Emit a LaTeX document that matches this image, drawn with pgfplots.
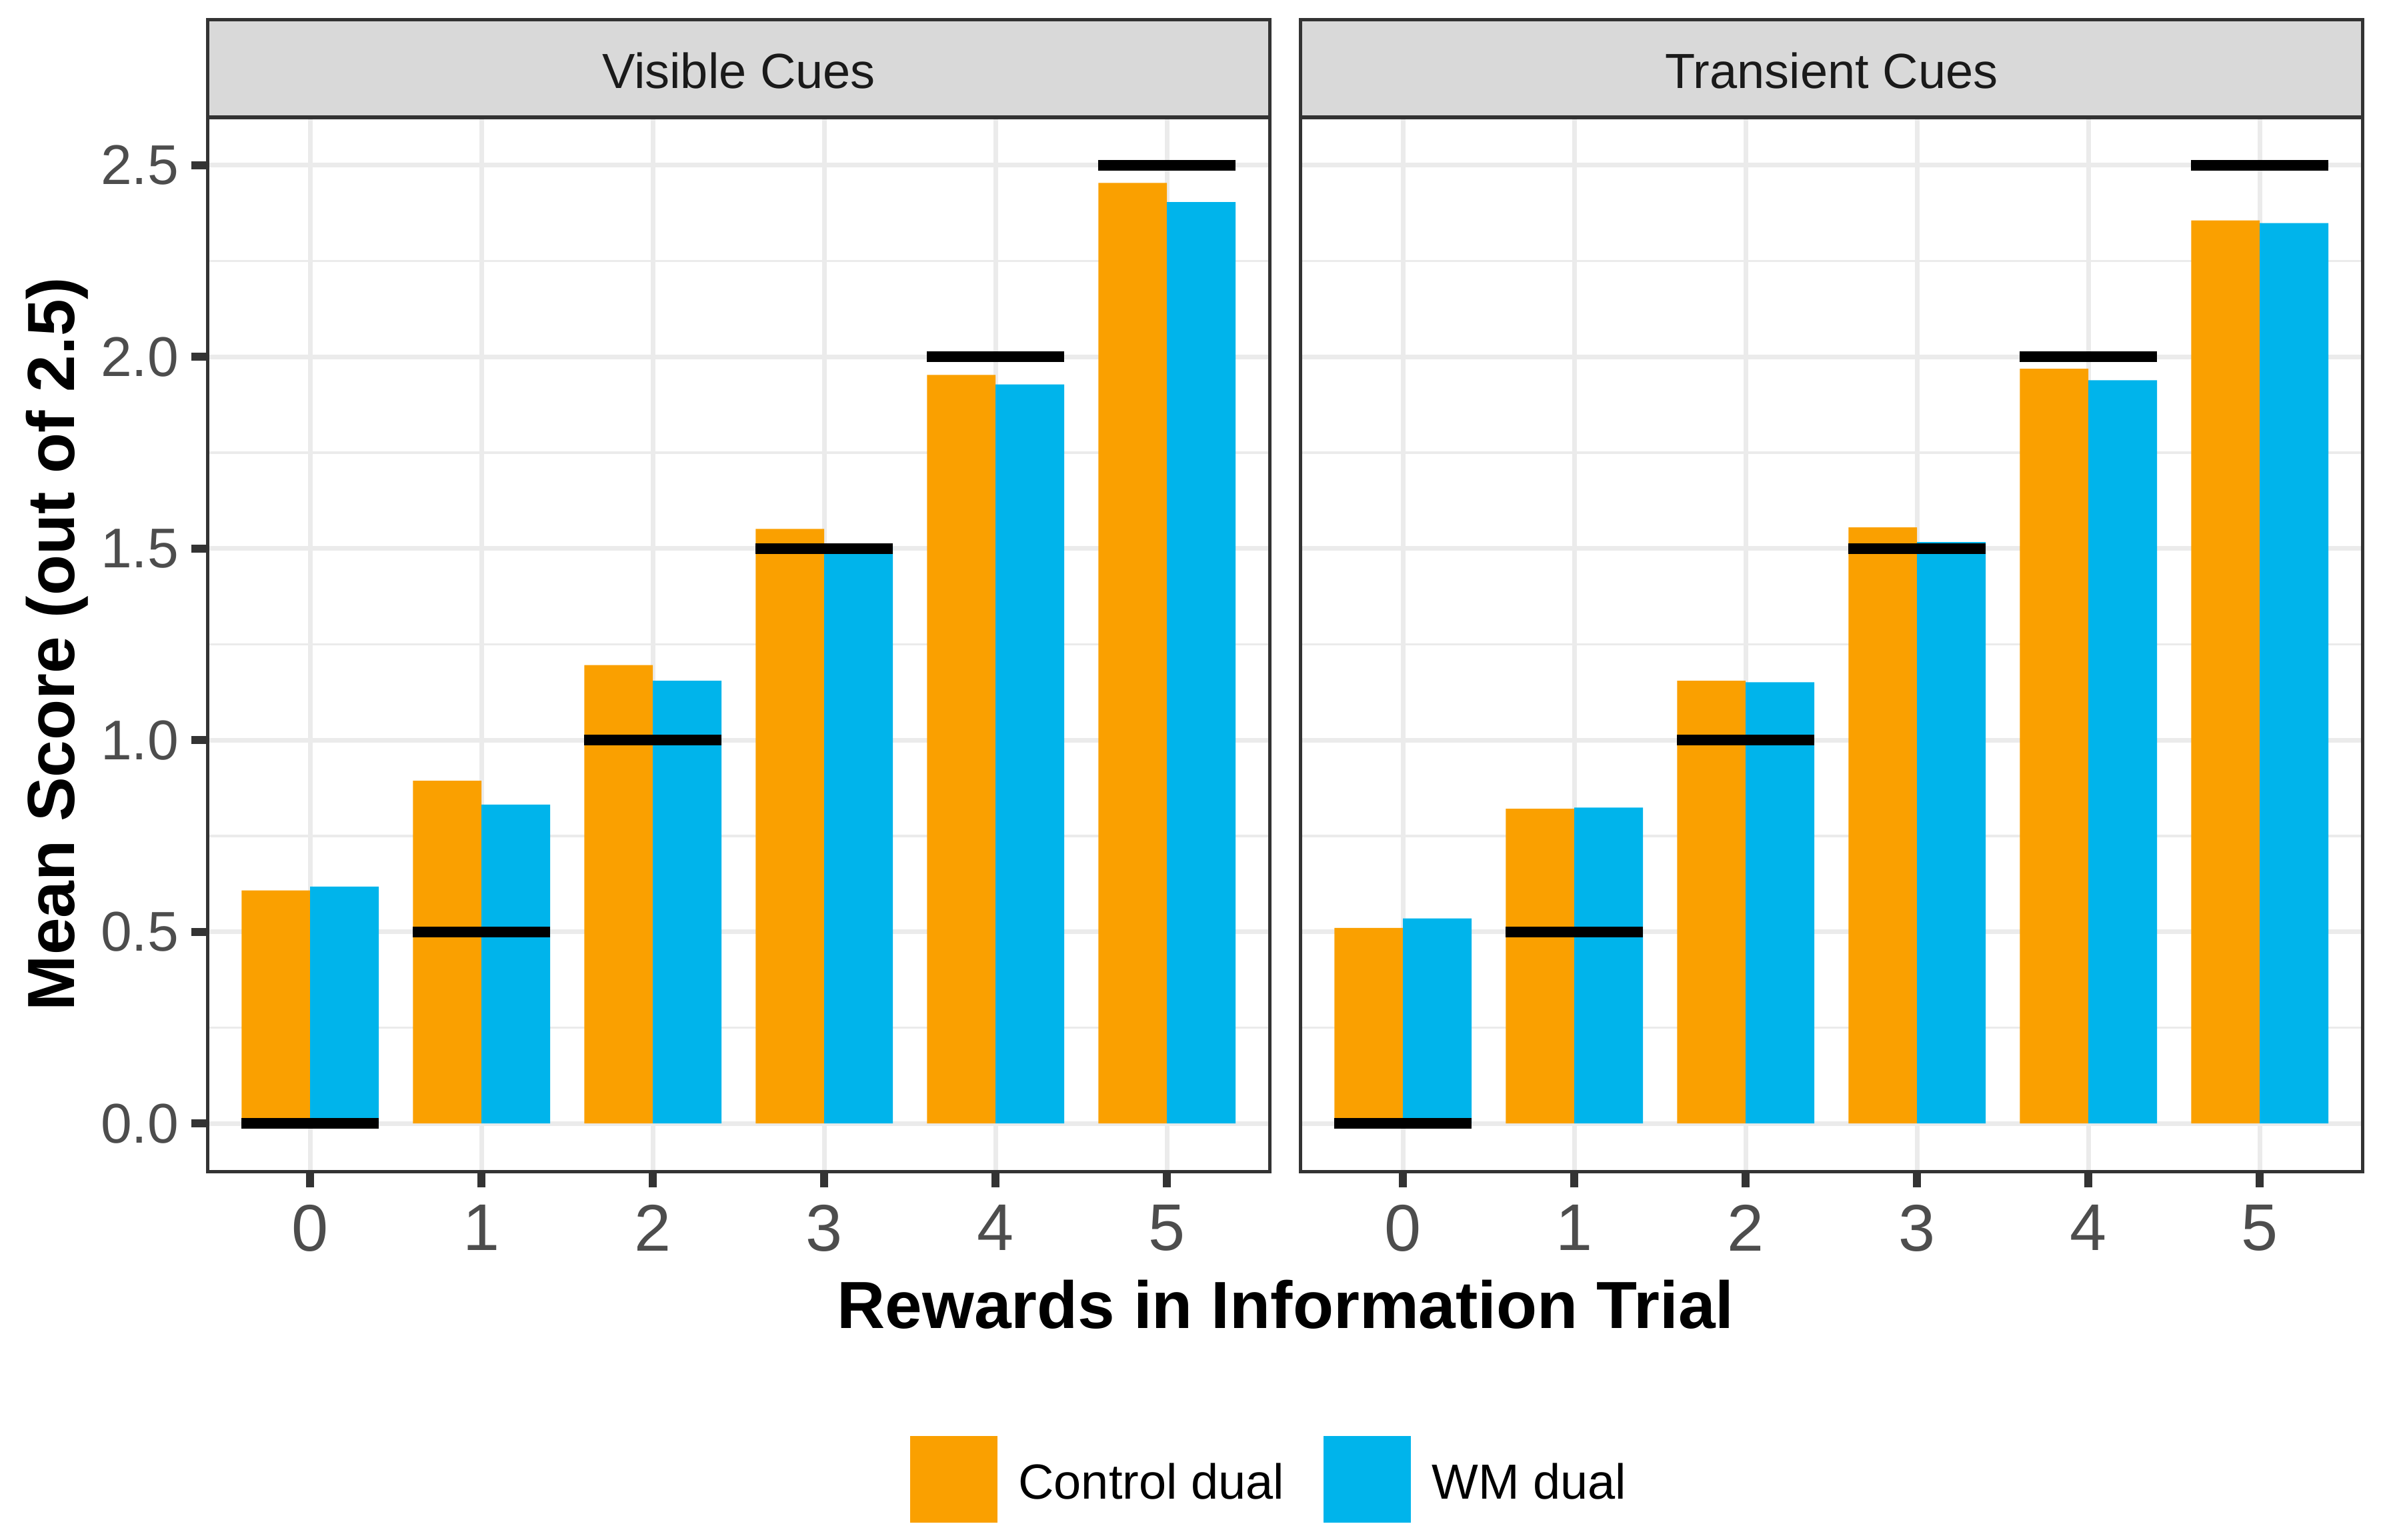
\documentclass[border=0pt]{standalone}
\usepackage{pgfplots}
\pgfplotsset{compat=1.18}
\usepackage{fontspec}
\setmainfont{Liberation Sans}
\definecolor{orng}{HTML}{FAA000}
\definecolor{skyb}{HTML}{00B4EB}
\definecolor{grid92}{HTML}{EBEBEB}
\definecolor{gray20}{HTML}{333333}
\definecolor{gray30}{HTML}{4D4D4D}
\definecolor{stripfill}{HTML}{D9D9D9}
\definecolor{gray10}{HTML}{1A1A1A}

\pgfplotsset{
  panel/.style={
    scale only axis, width=159.35pt, height=158.1pt,
    xmin=-0.6, xmax=5.6, ymin=-0.125, ymax=2.625,
    xtick={0,1,2,3,4,5}, xticklabels={0,1,2,3,4,5},
    ytick={0,0.5,1,1.5,2,2.5},
    minor ytick={0.25,0.75,1.25,1.75,2.25},
    xmajorgrids, ymajorgrids, yminorgrids,
    major grid style={grid92, line width=0.7pt},
    minor grid style={grid92, line width=0.35pt},
    axis line style={gray20, line width=0.5pt},
    tick align=outside, major tick length=2.4pt,
    major tick style={gray20, line width=1.2pt},
    minor tick style={draw=none},
    xtick pos=bottom, ytick pos=left,
    xticklabel style={font=\fontsize{9.9}{10}\selectfont, text=gray30, inner sep=0pt, anchor=north, yshift=-2.4pt},
    yticklabel style={font=\fontsize{8.4}{9}\selectfont, text=gray30, inner sep=0pt, anchor=east, xshift=-1.7pt},
    legend image code/.code={\fill[#1] (0pt,-6.5pt) rectangle (13.1pt,6.5pt);},
  },
  cbar/.style={ybar, bar width=0.4, bar shift=-0.2, fill=orng, draw=none, forget plot},
  wbar/.style={ybar, bar width=0.4, bar shift=0.2, fill=skyb, draw=none, forget plot},
  refl/.style={black, line width=1.6pt, line cap=butt, unbounded coords=jump, forget plot},
}

\begin{document}
\begin{tikzpicture}
\useasboundingbox (0,0) rectangle (359.2pt,230.9pt);

% ---- Visible Cues ----
\begin{axis}[panel, at={(31.1pt,55.2pt)}, anchor=south west,
  yticklabels={0.0,0.5,1.0,1.5,2.0,2.5},
  legend style={at={(axis description cs:0.6604,-0.2922)}, anchor=west, draw=none, fill=none,
    inner sep=0pt, legend columns=2, font=\fontsize{7.4}{8}\selectfont,
    nodes={inner sep=0pt, anchor=west},
    /tikz/every odd column/.append style={column sep=3.1pt},
    /tikz/every even column/.append style={column sep=5.9pt}},
]
\addplot[cbar] coordinates {(0,0.608) (1,0.894) (2,1.196) (3,1.551) (4,1.953) (5,2.454)};
\addplot[wbar] coordinates {(0,0.618) (1,0.832) (2,1.155) (3,1.505) (4,1.928) (5,2.404)};
\addplot[refl] coordinates {(-0.4,0) (0.4,0) (0.5,nan) (0.6,0.5) (1.4,0.5) (1.5,nan)
  (1.6,1) (2.4,1) (2.5,nan) (2.6,1.5) (3.4,1.5) (3.5,nan) (3.6,2) (4.4,2) (4.5,nan) (4.6,2.5) (5.4,2.5)};
\addlegendimage{fill=orng, draw=none}
\addlegendentry[yshift=-1.0pt]{Control dual}
\addlegendimage{fill=skyb, draw=none}
\addlegendentry[yshift=-1.0pt]{WM dual}
\end{axis}

% ---- Transient Cues ----
\begin{axis}[panel, at={(195.0pt,55.2pt)}, anchor=south west,
  yticklabels={}, ytick style={draw=none},
]
\addplot[cbar] coordinates {(0,0.510) (1,0.821) (2,1.155) (3,1.555) (4,1.969) (5,2.356)};
\addplot[wbar] coordinates {(0,0.535) (1,0.824) (2,1.151) (3,1.517) (4,1.939) (5,2.349)};
\addplot[refl] coordinates {(-0.4,0) (0.4,0) (0.5,nan) (0.6,0.5) (1.4,0.5) (1.5,nan)
  (1.6,1) (2.4,1) (2.5,nan) (2.6,1.5) (3.4,1.5) (3.5,nan) (3.6,2) (4.4,2) (4.5,nan) (4.6,2.5) (5.4,2.5)};
\end{axis}

% strips
\draw[gray20, line width=0.5pt, fill=stripfill] (31.1pt,213.3pt) rectangle (190.45pt,227.9pt);
\draw[gray20, line width=0.5pt, fill=stripfill] (195.0pt,213.3pt) rectangle (354.35pt,227.9pt);
\node[font=\fontsize{7.4}{8}\selectfont, text=gray10, inner sep=0pt] at (110.8pt,220.25pt) {Visible Cues};
\node[font=\fontsize{7.4}{8}\selectfont, text=gray10, inner sep=0pt] at (274.7pt,220.25pt) {Transient Cues};

% axis titles
\node[font=\fontsize{10}{11}\selectfont\bfseries, anchor=base, inner sep=0pt] at (192.8pt,31.7pt) {Rewards in Information Trial};
\node[font=\fontsize{10}{11}\selectfont\bfseries, anchor=base, rotate=90, inner sep=0pt] at (11.2pt,134.3pt) {Mean Score (out of 2.5)};
\end{tikzpicture}
\end{document}
